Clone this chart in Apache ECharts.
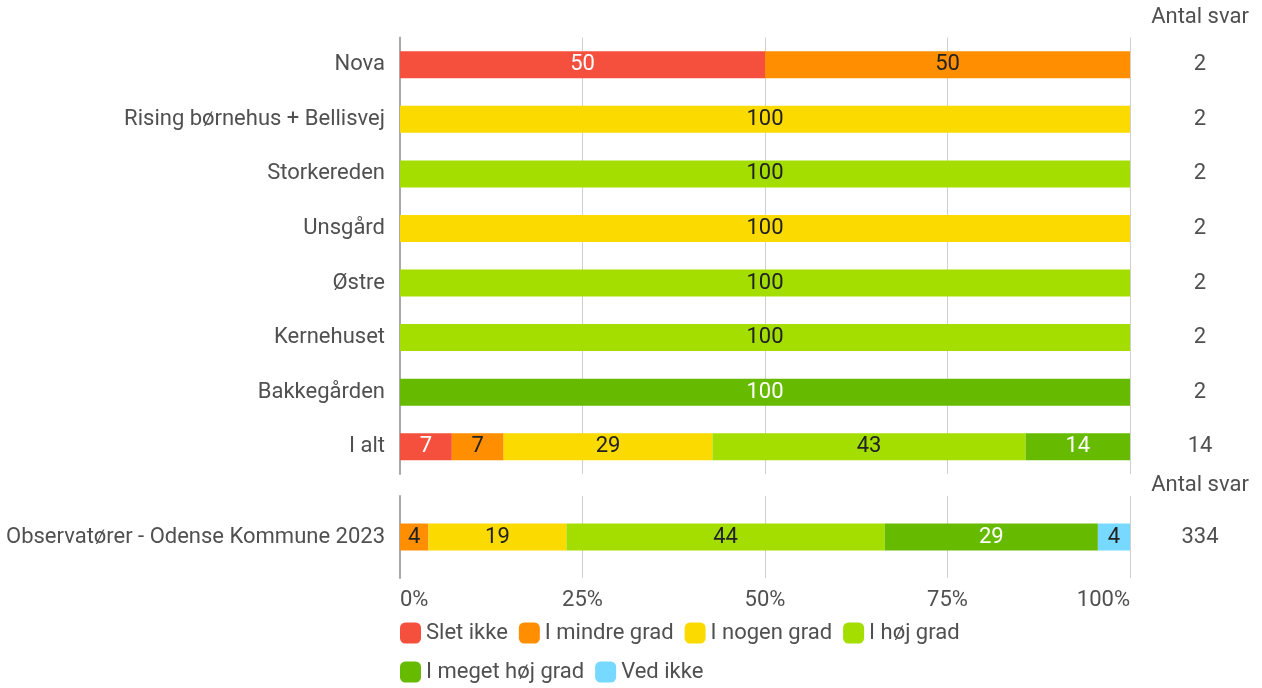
<!DOCTYPE html>
<html>
<head>
<meta charset="utf-8">
<script src="https://cdn.jsdelivr.net/npm/echarts@6/dist/echarts.min.js"></script>
<style>
  html, body { margin: 0; padding: 0; background: #fff; }
  #chart { width: 1262px; height: 688px; }
</style>
</head>
<body>
<div id="chart"></div>
<script>
  // kategorier (top til bund)
  var categories = ['Nova', 'Rising børnehus + Bellisvej', 'Storkereden', 'Unsgård', 'Østre', 'Kernehuset', 'Bakkegården', 'I alt'];
  var counts = [2, 2, 2, 2, 2, 2, 2, 14];
  var compareCategories = ['Observatører - Odense Kommune 2023'];
  var compareCounts = [334];
  var xTicks = ['0%', '25%', '50%', '75%', '100%'];

  var answerNames = ['Slet ikke', 'I mindre grad', 'I nogen grad', 'I høj grad', 'I meget høj grad', 'Ved ikke'];
  var colors = ['#F5503D', '#FF8F00', '#FBDA00', '#A3DE00', '#66BB00', '#77D9FF'];
  var labelColors = ['#fff', '#222', '#222', '#222', '#fff', '#222'];

  // procent pr. svar, en række pr. kategori
  var sletIkke       = [50, 0, 0, 0, 0, 0, 0, 7.1];
  var iMindreGrad    = [50, 0, 0, 0, 0, 0, 0, 7.1];
  var iNogenGrad     = [0, 100, 0, 100, 0, 0, 0, 28.6];
  var iHoejGrad      = [0, 0, 100, 0, 100, 100, 0, 42.9];
  var iMegetHoejGrad = [0, 0, 0, 0, 0, 0, 100, 14.3];
  var vedIkke        = [0, 0, 0, 0, 0, 0, 0, 0];

  var compareValues = [0, 3.9, 18.9, 43.6, 29.2, 4.4];

  var topData = [sletIkke, iMindreGrad, iNogenGrad, iHoejGrad, iMegetHoejGrad, vedIkke];

  var font = 'Roboto';
  var fs = 22;
  var textColor = '#505050';

  function barLabel(i) {
    return {
      show: true,
      position: 'inside',
      fontFamily: font,
      fontSize: fs,
      color: labelColors[i],
      formatter: function (p) {
        return p.value > 0 ? Math.round(p.value) : '';
      }
    };
  }

  var series = [];
  answerNames.forEach(function (name, i) {
    series.push({
      name: name,
      type: 'bar',
      stack: 'top',
      xAxisIndex: 0,
      yAxisIndex: 0,
      barWidth: 27,
      itemStyle: { color: colors[i] },
      label: barLabel(i),
      data: topData[i]
    });
    series.push({
      name: name,
      type: 'bar',
      stack: 'compare',
      xAxisIndex: 1,
      yAxisIndex: 2,
      barWidth: 27,
      itemStyle: { color: colors[i] },
      label: barLabel(i),
      data: [compareValues[i]]
    });
  });

  var valueAxis = function (idx, showLabels) {
    return {
      type: 'value',
      gridIndex: idx,
      min: 0,
      max: 100,
      interval: 25,
      axisLine: { show: false },
      axisTick: { show: false },
      splitLine: { lineStyle: { color: '#cfcfcf', width: 1 } },
      axisLabel: {
        show: showLabels,
        margin: 11,
        fontFamily: font,
        fontSize: fs,
        color: textColor,
        alignMinLabel: 'left',
        alignMaxLabel: 'right',
        formatter: function (v) { return xTicks[v / 25]; }
      }
    };
  };

  var catAxis = function (idx, data) {
    return {
      type: 'category',
      gridIndex: idx,
      inverse: true,
      data: data,
      axisTick: { show: false },
      axisLine: { lineStyle: { color: '#a8a8a8', width: 2 } },
      axisLabel: { margin: 15, fontFamily: font, fontSize: fs, color: textColor }
    };
  };

  var countAxis = function (idx, data) {
    return {
      type: 'category',
      gridIndex: idx,
      position: 'right',
      inverse: true,
      data: data,
      axisTick: { show: false },
      axisLine: { show: false },
      axisLabel: { margin: 70, align: 'center', fontFamily: font, fontSize: fs, color: textColor }
    };
  };

  var legendBase = function (top, names) {
    return {
      left: 400, top: top, padding: 0,
      itemWidth: 21, itemHeight: 21, itemGap: 11,
      icon: 'roundRect',
      textStyle: { fontFamily: font, fontSize: fs, color: textColor },
      data: names,
      selectedMode: false
    };
  };

  var option = {
    animation: false,
    backgroundColor: '#fff',
    grid: [
      { left: 400, right: 132, top: 37.5, height: 436.5 },
      { left: 400, right: 132, top: 496, height: 82 }
    ],
    xAxis: [valueAxis(0, false), valueAxis(1, true)],
    yAxis: [
      catAxis(0, categories),
      countAxis(0, counts),
      catAxis(1, compareCategories),
      countAxis(1, compareCounts)
    ],
    legend: [
      legendBase(622, answerNames.slice(0, 4)),
      legendBase(661, answerNames.slice(4))
    ],
    graphic: [
      { type: 'text', x: 1200, y: 17, style: { text: 'Antal svar', font: fs + 'px Roboto', fill: textColor, align: 'center', verticalAlign: 'middle' } },
      { type: 'text', x: 1200, y: 485, style: { text: 'Antal svar', font: fs + 'px Roboto', fill: textColor, align: 'center', verticalAlign: 'middle' } }
    ],
    series: series
  };

  var chart = echarts.init(document.getElementById('chart'));
  chart.setOption(option);
</script>
</body>
</html>
